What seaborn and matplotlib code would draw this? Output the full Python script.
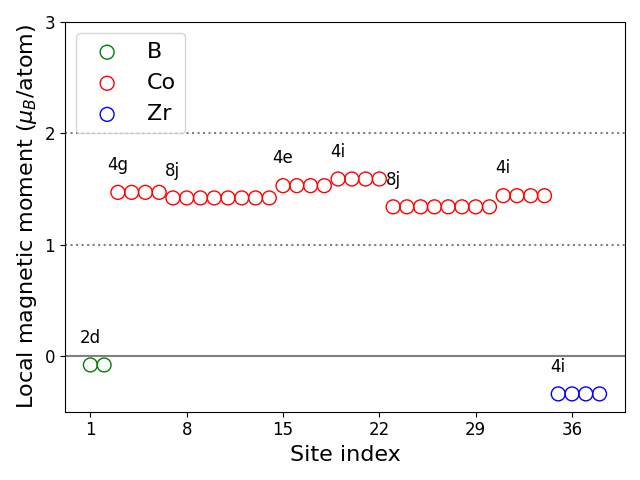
import matplotlib
matplotlib.use("Agg")
import matplotlib.pyplot as plt
import seaborn as sns
import pandas as pd

b_sites = [1, 2]
b_moments = [-0.08, -0.08]
co_sites = list(range(3, 35))
co_moments = [1.47] * 4 + [1.42] * 8 + [1.53] * 4 + [1.59] * 4 + [1.34] * 8 + [1.44] * 4
zr_sites = [35, 36, 37, 38]
zr_moments = [-0.34] * 4

wyckoff_labels = ["2d", "4g", "8j", "4e", "4i", "8j", "4i", "4i"]
label_sites = [1, 3, 7, 15, 19, 23, 31, 35]
label_base = [-0.08, 1.47, 1.42, 1.53, 1.59, 1.34, 1.44, -0.34]

df = pd.concat([
    pd.DataFrame({"site": b_sites, "moment": b_moments, "elem": "B"}),
    pd.DataFrame({"site": co_sites, "moment": co_moments, "elem": "Co"}),
    pd.DataFrame({"site": zr_sites, "moment": zr_moments, "elem": "Zr"}),
])
colors = {"B": "green", "Co": "red", "Zr": "blue"}

fig, ax = plt.subplots(figsize=(6.4, 4.8), dpi=100)
for elem, c in colors.items():
    sub = df[df["elem"] == elem]
    sns.scatterplot(data=sub, x="site", y="moment", ax=ax, s=100,
                    facecolors="none", edgecolor=c, linewidth=1.0, label=elem)
for coll in ax.collections:
    coll.set_facecolor("none")

ax.axhline(0, color="gray", lw=1.5, zorder=0)
ax.axhline(1, color="gray", lw=1.5, ls=":", zorder=0)
ax.axhline(2, color="gray", lw=1.5, ls=":", zorder=0)

for t, x, yb in zip(wyckoff_labels, label_sites, label_base):
    ax.text(x, yb + 0.2, t, fontsize=12, ha="center", va="baseline")

ax.set_ylim(-0.5, 3)
ax.set_yticks([0, 1, 2, 3])
ax.set_xticks([1, 8, 15, 22, 29, 36])
ax.tick_params(labelsize=12)
ax.set_xlabel("Site index", fontsize=16)
ax.set_ylabel(r"Local magnetic moment ($\mu_B$/atom)", fontsize=16)
leg = ax.legend(loc="upper left", fontsize=16)
for h in leg.legend_handles:
    h.set_facecolor("none")
fig.tight_layout()
fig.savefig("out.png", dpi=100)
